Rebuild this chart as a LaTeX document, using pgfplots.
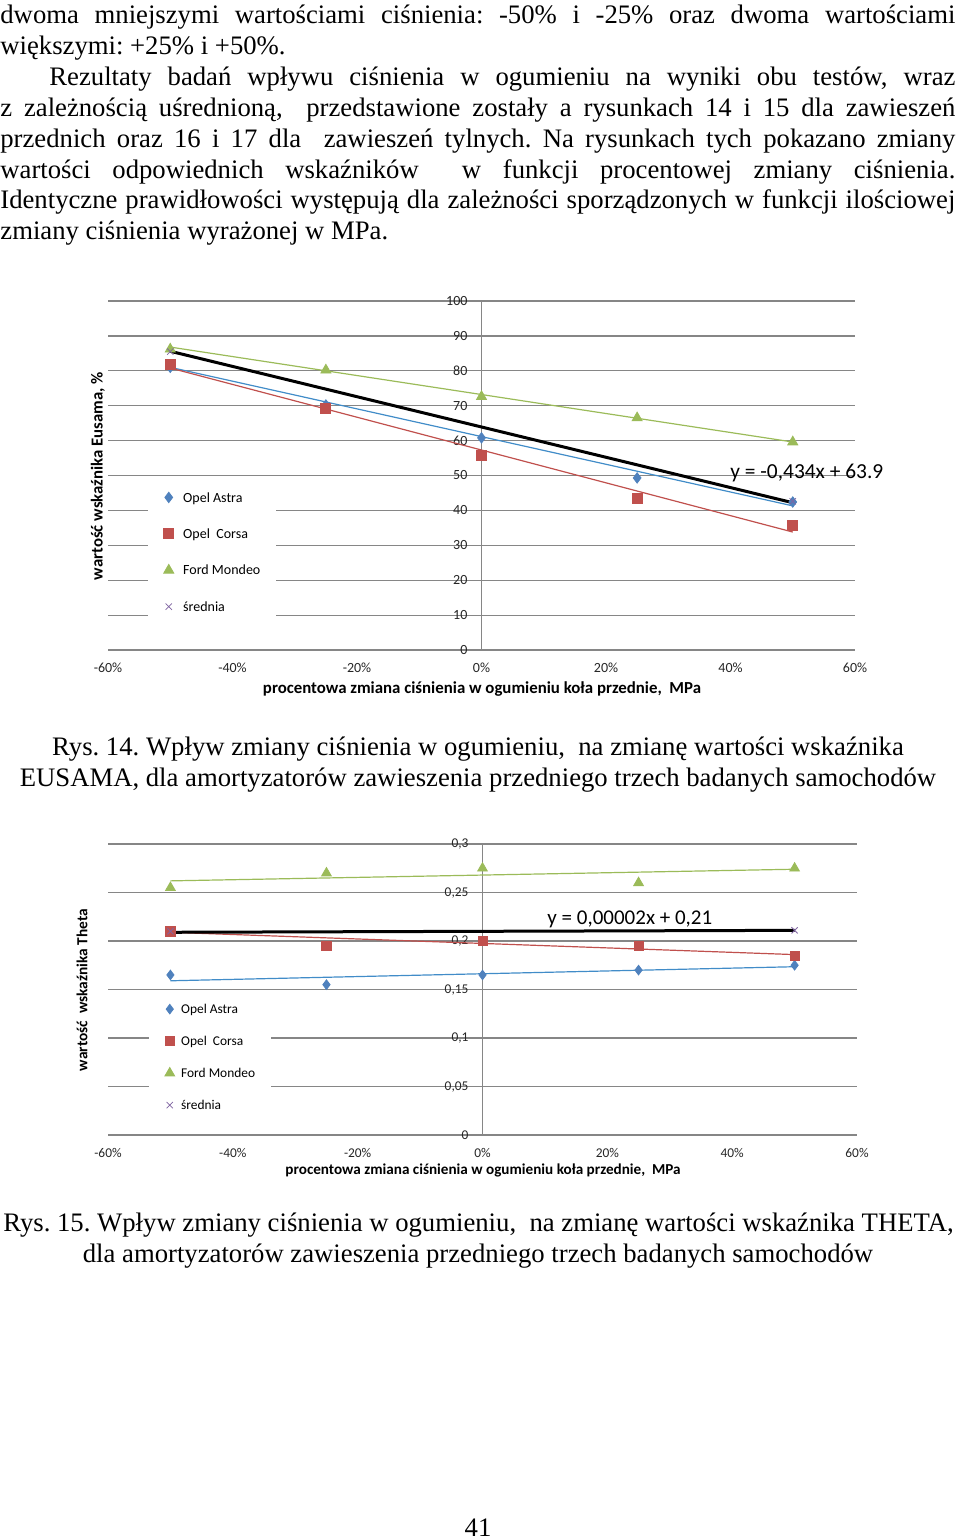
\documentclass[border=0pt]{standalone}
\usepackage{fontspec}
\setmainfont{Liberation Serif}
\newfontfamily\calib{Carlito}
\usepackage{graphicx}
\usepackage{pgfplots}
\pgfplotsset{compat=1.18}
\frenchspacing
\definecolor{cBlue}{RGB}{79,129,189}
\definecolor{cRed}{RGB}{192,80,77}
\definecolor{cGreen}{RGB}{155,187,89}
\definecolor{cPurple}{RGB}{128,100,162}
\definecolor{tBlue}{RGB}{65,140,200}
\definecolor{gridgray}{RGB}{134,134,134}
\newcommand\bodyfont{\fontsize{13.35pt}{16pt}\selectfont\frenchspacing}
\pgfplotsset{
 pagechart/.style={
  scale only axis,
  axis lines=middle,
  axis line style={-, draw=gridgray, line width=0.6pt},
  hide obscured x ticks=false, hide obscured y ticks=false,
  xmin=-60, xmax=60,
  xtick={-60,-40,-20,0,20,40,60},
  xticklabels={-60\%,-40\%,-20\%,0\%,20\%,40\%,60\%},
  ymajorgrids, major grid style={draw=gridgray, line width=0.6pt},
  major tick length=0pt,
  xticklabel style={anchor=north, yshift=-3pt},
  yticklabel style={anchor=east, xshift=-3.5pt},
  clip=false,
  legend cell align=left,
  legend image code/.code={\path (-3pt,0pt) (3pt,0pt); \draw[#1] plot coordinates {(0pt,0.6pt)};},
 }
}
\begin{document}
\begin{tikzpicture}
\path[use as bounding box] (0pt,0pt) rectangle (480pt,-770pt);
% ---------------- Chart 1 ----------------
\begin{axis}[pagechart, at={(54pt,-325pt)}, anchor=south west,
  width=373.5pt, height=174.5pt, ymin=0, ymax=100,
  ytick={0,10,20,30,40,50,60,70,80,90,100},
  yticklabels={0,10,20,30,40,50,60,70,80,90,100},
  tick label style={font=\calib\fontsize{7}{8}\selectfont, text=black!85},
  legend style={at={(0.0535,0.485)}, anchor=north west, draw=none, fill=white,
    font=\calib\fontsize{7}{8}\selectfont, row sep=9.7pt, inner xsep=7pt, inner ysep=4.5pt,
    nodes={text height=5pt, text depth=1.5pt, inner sep=1pt},
    /tikz/every odd column/.append style={column sep=3pt}}]
\addplot[tBlue, line width=0.6pt, forget plot] coordinates {(-50,81.0) (50,41.3)};
\addplot[cRed, line width=0.6pt, forget plot] coordinates {(-50,80.8) (50,33.8)};
\addplot[cGreen, line width=0.6pt, forget plot] coordinates {(-50,86.8) (50,59.6)};
\addplot[black, line width=1.5pt, forget plot] coordinates {(-50,85.6) (50,42.2)};
\addplot[only marks, mark=diamond*, mark size=2.6pt, color=cBlue]
  coordinates {(-50,81.0) (-25,70.2) (0,60.8) (25,49.3) (50,42.4)};
\addlegendentry{Opel Astra}
\addplot[only marks, mark=square*, mark size=2.5pt, color=cRed]
  coordinates {(-50,81.7) (-25,69.3) (0,55.9) (25,43.3) (50,35.8)};
\addlegendentry{Opel\ \ Corsa}
\addplot[only marks, mark=triangle*, mark size=2.9pt, color=cGreen]
  coordinates {(-50,86.2) (-25,80.2) (0,72.6) (25,66.5) (50,59.6)};
\addlegendentry{Ford Mondeo}
\addplot[only marks, mark=x, mark size=2.25pt, color=cPurple, line width=0.4pt]
  coordinates {(-50,85.5) (50,42.6)};
\addlegendentry{średnia}
\end{axis}
% ---------------- Chart 2 ----------------
\begin{axis}[pagechart, at={(54pt,-567.5pt)}, anchor=south west,
  width=374.5pt, height=145.5pt, ymin=0, ymax=0.3,
  ytick={0,0.05,0.1,0.15,0.2,0.25,0.3},
  yticklabels={0,{0,05},{0,1},{0,15},{0,2},{0,25},{0,3}},
  tick label style={font=\calib\fontsize{6.7}{8}\selectfont, text=black!85},
  legend style={at={(0.0547,0.49)}, anchor=north west, draw=none, fill=white,
    font=\calib\fontsize{6.7}{8}\selectfont, row sep=7.5pt, inner xsep=7pt, inner ysep=4.5pt,
    nodes={text height=5pt, text depth=1.5pt, inner sep=1pt},
    /tikz/every odd column/.append style={column sep=1.5pt}}]
\addplot[tBlue, line width=0.6pt, forget plot] coordinates {(-50,0.159) (50,0.1735)};
\addplot[cRed, line width=0.6pt, forget plot] coordinates {(-50,0.209) (50,0.186)};
\addplot[cGreen, line width=0.6pt, forget plot] coordinates {(-50,0.262) (50,0.274)};
\addplot[black, line width=1.5pt, forget plot] coordinates {(-50,0.209) (50,0.211)};
\addplot[only marks, mark=diamond*, mark size=2.4pt, color=cBlue]
  coordinates {(-50,0.165) (-25,0.155) (0,0.165) (25,0.170) (50,0.175)};
\addlegendentry{Opel Astra}
\addplot[only marks, mark=square*, mark size=2.3pt, color=cRed]
  coordinates {(-50,0.210) (-25,0.195) (0,0.200) (25,0.195) (50,0.185)};
\addlegendentry{Opel\ \ Corsa}
\addplot[only marks, mark=triangle*, mark size=2.8pt, color=cGreen]
  coordinates {(-50,0.255) (-25,0.270) (0,0.275) (25,0.260) (50,0.275)};
\addlegendentry{Ford Mondeo}
\addplot[only marks, mark=x, mark size=2.2pt, color=cPurple, line width=0.4pt]
  coordinates {(-50,0.210) (50,0.211)};
\addlegendentry{średnia}
\end{axis}
% ---------------- Text ----------------
\begin{scope}[x=0.5pt,y=-0.5pt]
\node[anchor=base west, inner sep=0pt, font=\bodyfont] at (0,24) {\makebox[477.5pt][s]{dwoma mniejszymi wartościami ciśnienia: -50\% i -25\% oraz dwoma wartościami}};
\node[anchor=base west, inner sep=0pt, font=\bodyfont] at (0,55) {większymi: +25\% i +50\%.};
\node[anchor=base west, inner sep=0pt, font=\bodyfont] at (49,86) {\makebox[453pt][s]{Rezultaty badań wpływu ciśnienia w ogumieniu na wyniki obu testów, wraz}};
\node[anchor=base west, inner sep=0pt, font=\bodyfont] at (0,117) {\makebox[477.5pt][s]{z zależnością uśrednioną,\ \ przedstawione zostały a rysunkach 14 i 15 dla zawieszeń}};
\node[anchor=base west, inner sep=0pt, font=\bodyfont] at (0,148) {\makebox[477.5pt][s]{przednich oraz 16 i 17 dla\ \ zawieszeń tylnych. Na rysunkach tych pokazano zmiany}};
\node[anchor=base west, inner sep=0pt, font=\bodyfont] at (0,179) {\makebox[477.5pt][s]{wartości odpowiednich wskaźników\ \ w funkcji procentowej zmiany ciśnienia.}};
\node[anchor=base west, inner sep=0pt, font=\bodyfont] at (0,209) {\makebox[477.5pt][s]{Identyczne prawidłowości występują dla zależności sporządzonych w funkcji ilościowej}};
\node[anchor=base west, inner sep=0pt, font=\bodyfont] at (0,240) {zmiany ciśnienia wyrażonej w MPa.};
% chart 1 labels
\node[rotate=90, inner sep=0pt] at (98,476) {\resizebox{104pt}{!}{\calib\bfseries wartość wskaźnika Eusama, \%}};
\node[inner sep=0pt] at (482,689) {\resizebox{219pt}{!}{\calib\bfseries procentowa zmiana ciśnienia w ogumieniu koła przednie,\ \ MPa}};
\node[anchor=west, inner sep=0pt] at (730,473) {\calib\fontsize{10.7pt}{12pt}\selectfont y = -0,434x + 63.9};
\node[anchor=base, inner sep=0pt, font=\bodyfont] at (478,755) {Rys. 14. Wpływ zmiany ciśnienia w ogumieniu,\ \ na zmianę wartości wskaźnika};
\node[anchor=base, inner sep=0pt, font=\bodyfont] at (478,786) {EUSAMA, dla amortyzatorów zawieszenia przedniego trzech badanych samochodów};
% chart 2 labels
\node[rotate=90, inner sep=0pt] at (82,990) {\resizebox{81pt}{!}{\calib\bfseries wartość\ \ wskaźnika Theta}};
\node[inner sep=0pt] at (483,1170) {\resizebox{197.5pt}{!}{\calib\bfseries procentowa zmiana ciśnienia w ogumieniu koła przednie,\ \ MPa}};
\node[anchor=west, inner sep=0pt] at (547,919) {\calib\fontsize{10.5pt}{12pt}\selectfont y = 0,00002x + 0,21};
\node[anchor=base, inner sep=0pt, font=\bodyfont] at (478.5,1231) {Rys. 15. Wpływ zmiany ciśnienia w ogumieniu,\ \ na zmianę wartości wskaźnika THETA,};
\node[anchor=base, inner sep=0pt, font=\bodyfont] at (478,1262) {dla amortyzatorów zawieszenia przedniego trzech badanych samochodów};
\node[anchor=base, inner sep=0pt, font=\bodyfont] at (478,1536) {41};
\end{scope}
\end{tikzpicture}
\end{document}
